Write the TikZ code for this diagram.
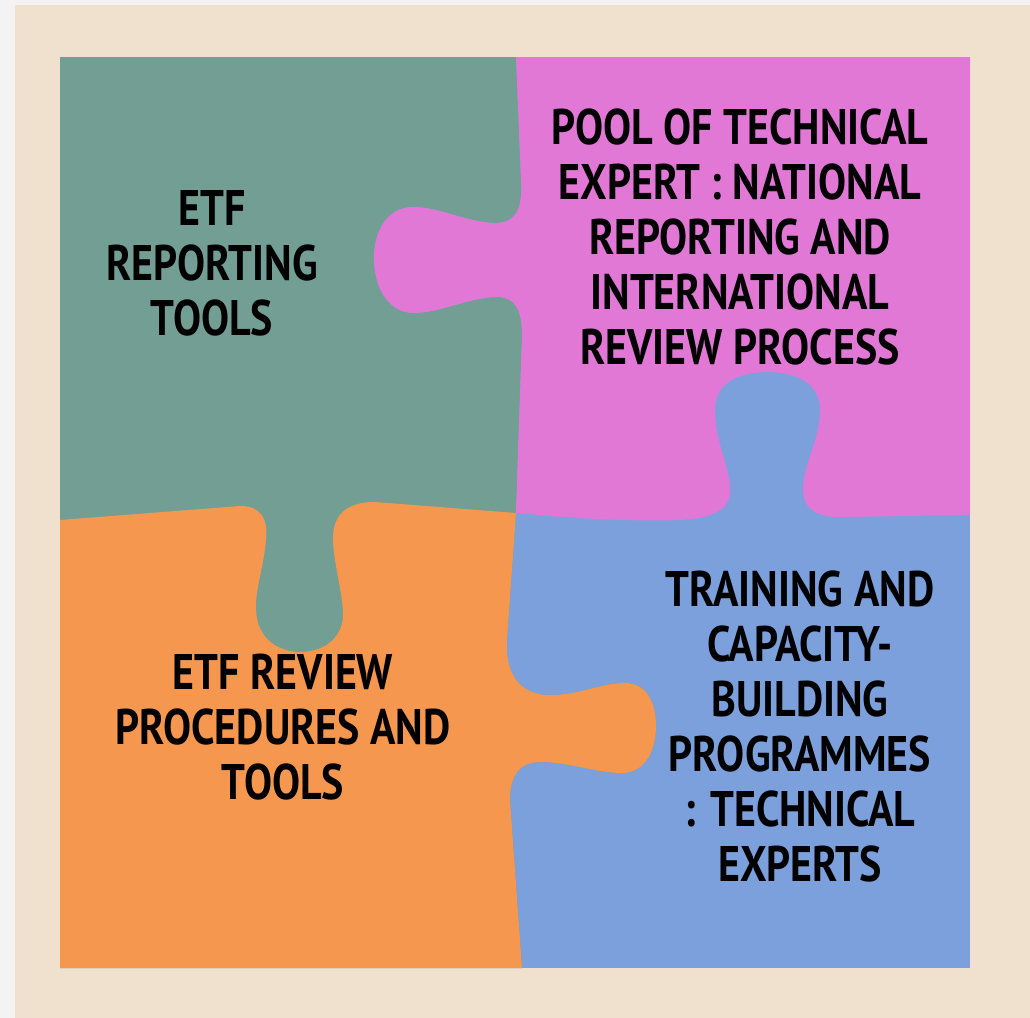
\documentclass[tikz,border=0pt]{standalone}
\usepackage{fontspec}
\newfontfamily\piecefont[FakeStretch=0.84]{PT Sans}
\usepackage{xcolor}
\usepackage{tikz}
\usetikzlibrary{positioning}
\definecolor{pagegray}{HTML}{F3F3F3}
\definecolor{beige}{HTML}{F0E1CF}
\definecolor{tealpiece}{HTML}{739E94}
\definecolor{pinkpiece}{HTML}{E278D6}
\definecolor{bluepiece}{HTML}{7CA0DB}
\definecolor{orangepiece}{HTML}{F6974F}

\begin{document}
\begin{tikzpicture}[x=0.5pt,y=-0.5pt,
  piecetext/.style={font=\piecefont\bfseries\fontsize{25}{27.5}\selectfont,align=center,inner sep=0pt,text=black}]
\useasboundingbox (0,0) rectangle (1030,1018);
\fill[pagegray] (0,0) rectangle (1030,1018);
\fill[beige] (15,5) rectangle (1030,1018);
% blue piece is the square underneath, the others lie on top
\fill[bluepiece] (60,57) rectangle (970,968);
% teal: whole left half, the orange piece covers its lower part
\fill[tealpiece] (60,57) -- (516,57) -- (521,180)
  .. controls (523,210) and (515,223) .. (495,223)
  .. controls (465,222) and (440,207) .. (413,207)
  .. controls (388,207) and (374,230) .. (374,258)
  .. controls (374,290) and (390,313) .. (414,313)
  .. controls (440,313) and (470,297) .. (497,297)
  .. controls (515,297) and (522,310) .. (522,335) -- (516,513)
  -- (507,640) .. controls (505,680) and (525,695) .. (550,695)
  .. controls (580,695) and (600,683) .. (625,683)
  .. controls (645,683) and (656,700) .. (656,726)
  .. controls (656,755) and (642,773) .. (622,773)
  .. controls (595,773) and (570,762) .. (540,762)
  .. controls (520,762) and (510,775) .. (510,800) -- (522,968) -- (60,968) -- cycle;
% orange: tab to the right, hole for the teal tab
\fill[orangepiece] (60,520) -- (240,506)
  .. controls (262,506) and (268,520) .. (266,540)
  .. controls (264,565) and (255,590) .. (256,610)
  .. controls (257,640) and (280,652) .. (300,652)
  .. controls (325,652) and (344,637) .. (343,612)
  .. controls (342,590) and (333,560) .. (333,538)
  .. controls (333,512) and (350,502) .. (375,502) -- (516,513)
  -- (507,640) .. controls (505,680) and (525,695) .. (550,695)
  .. controls (580,695) and (600,683) .. (625,683)
  .. controls (645,683) and (656,700) .. (656,726)
  .. controls (656,755) and (642,773) .. (622,773)
  .. controls (595,773) and (570,762) .. (540,762)
  .. controls (520,762) and (510,775) .. (510,800) -- (522,968) -- (60,968) -- cycle;
% pink: tab to the left, hole for the blue tab
\fill[pinkpiece] (516,57) -- (521,180)
  .. controls (523,210) and (515,223) .. (495,223)
  .. controls (465,222) and (440,207) .. (413,207)
  .. controls (388,207) and (374,230) .. (374,258)
  .. controls (374,290) and (390,313) .. (414,313)
  .. controls (440,313) and (470,297) .. (497,297)
  .. controls (515,297) and (522,310) .. (522,335) -- (516,513)
  .. controls (560,517) and (620,522) .. (680,520)
  .. controls (720,518) and (733,505) .. (730,485)
  .. controls (727,460) and (715,440) .. (715,410)
  .. controls (715,382) and (740,372) .. (767,372)
  .. controls (795,372) and (820,382) .. (820,410)
  .. controls (820,440) and (804,462) .. (803,487)
  .. controls (802,508) and (815,517) .. (840,517) -- (970,515) -- (970,57) -- cycle;
% texts
\node[piecetext] (tools) at (212,263) {ETF\\REPORTING\\TOOLS};
\node[piecetext] (pool) at (740,237) {POOL OF TECHNICAL\\EXPERT : NATIONAL\\REPORTING AND\\INTERNATIONAL\\REVIEW PROCESS};
\node[piecetext] (review) at (283,727) {ETF REVIEW\\PROCEDURES AND\\TOOLS};
\node[piecetext] (training) at (800,726) {TRAINING AND\\CAPACITY-\\BUILDING\\PROGRAMMES\\: TECHNICAL\\EXPERTS};
\end{tikzpicture}
\end{document}
